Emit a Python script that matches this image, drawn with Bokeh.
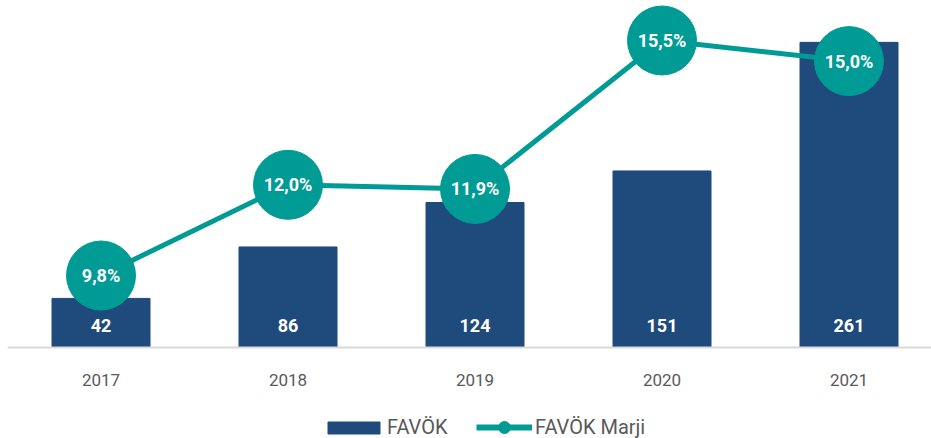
from bokeh.plotting import figure
from bokeh.layouts import column
from bokeh.models import Range1d, Legend, LegendItem, ColumnDataSource, FixedTicker
from bokeh.core.properties import value
from bokeh.embed import file_html
from bokeh.resources import INLINE

years = ["2017", "2018", "2019", "2020", "2021"]
favok = [42, 86, 124, 151, 261]
marj = [9.8, 12.0, 11.9, 15.5, 15.0]
favok_labels = ["42", "86", "124", "151", "261"]
marj_labels = ["9,8%", "12,0%", "11,9%", "15,5%", "15,0%"]
series_names = ["FAVÖK", "FAVÖK Marji"]

BAR = "#1f4a7c"
TEAL = "#009b95"
GREY = "#595959"
FONT = "Roboto"

xs = list(range(len(years)))
src = ColumnDataSource(dict(x=xs, favok=favok, marj=marj, fl=favok_labels, ml=marj_labels,
                            base=[0]*len(xs)))

W = 931
left = 7
frame_w = W - left
frame_h = 347
px_per_cat = 187.0

p = figure(frame_width=frame_w, frame_height=frame_h, output_backend="svg", toolbar_location=None,
           x_range=Range1d(-0.5, -0.5 + frame_w / px_per_cat),
           y_range=Range1d(0, 296.8),
           min_border_left=left, min_border_right=0, min_border_top=0,
           min_border_bottom=53)
p.extra_y_ranges = {"m": Range1d(8.054, 16.47)}
p.outline_line_color = None
p.grid.grid_line_color = None
p.yaxis.visible = False
p.background_fill_color = "white"
p.border_fill_color = "white"

p.vbar(x="x", top="favok", width=98 / px_per_cat, color=BAR, source=src)
p.line(x="x", y="marj", line_color=TEAL, line_width=5, y_range_name="m", source=src)
p.scatter(x="x", y="marj", size=69, color=TEAL, y_range_name="m", source=src)

p.text(x="x", y="base", text="fl", source=src, text_color="white",
       text_font=value(FONT), text_font_size="18px", text_align="center",
       text_baseline="middle", y_offset=-22, text_font_style="bold")
p.text(x="x", y="marj", text="ml", source=src, text_color="white",
       text_font=value(FONT), text_font_size="18px", text_align="center",
       text_baseline="middle", y_range_name="m", text_font_style="bold")

xa = p.xaxis[0]
xa.ticker = FixedTicker(ticks=xs)
xa.major_label_overrides = {i: y for i, y in enumerate(years)}
xa.axis_line_color = "#d9d9d9"
xa.axis_line_width = 2
xa.major_tick_line_color = None
xa.minor_tick_line_color = None
xa.major_label_text_font = FONT
xa.major_label_text_font_size = "17px"
xa.major_label_text_color = GREY
xa.major_label_standoff = 20

# legend strip (legend-only renderers, positioned outside the visible range)
lg = figure(width=W, height=50, output_backend="svg", toolbar_location=None,
            x_range=Range1d(0, 1), y_range=Range1d(0, 1), min_border=0)
lg.axis.visible = False
lg.grid.grid_line_color = None
lg.outline_line_color = None
lg.background_fill_color = "white"
lg.border_fill_color = "white"
r_bar = lg.vbar(x=[5], top=[1], width=1, color=BAR)
r_line = lg.line(x=[5, 6], y=[5, 6], line_color=TEAL, line_width=6)
r_dot = lg.scatter(x=[5], y=[5], size=12, color=TEAL)

common = dict(orientation="horizontal", label_text_font=FONT, label_text_font_size="20px",
              label_text_color=GREY, border_line_color=None, background_fill_alpha=0,
              padding=0, margin=0)
leg1 = Legend(items=[LegendItem(label=series_names[0], renderers=[r_bar])],
              location=(314, 11), glyph_width=65, glyph_height=15, label_standoff=1, **common)
leg2 = Legend(items=[LegendItem(label=series_names[1], renderers=[r_line, r_dot])],
              location=(469, 8), glyph_width=56, glyph_height=30, label_standoff=3, **common)
lg.add_layout(leg1, "center")
lg.add_layout(leg2, "center")

layout = column(p, lg, spacing=0)
open("out.html", "w").write(file_html(layout, INLINE))
